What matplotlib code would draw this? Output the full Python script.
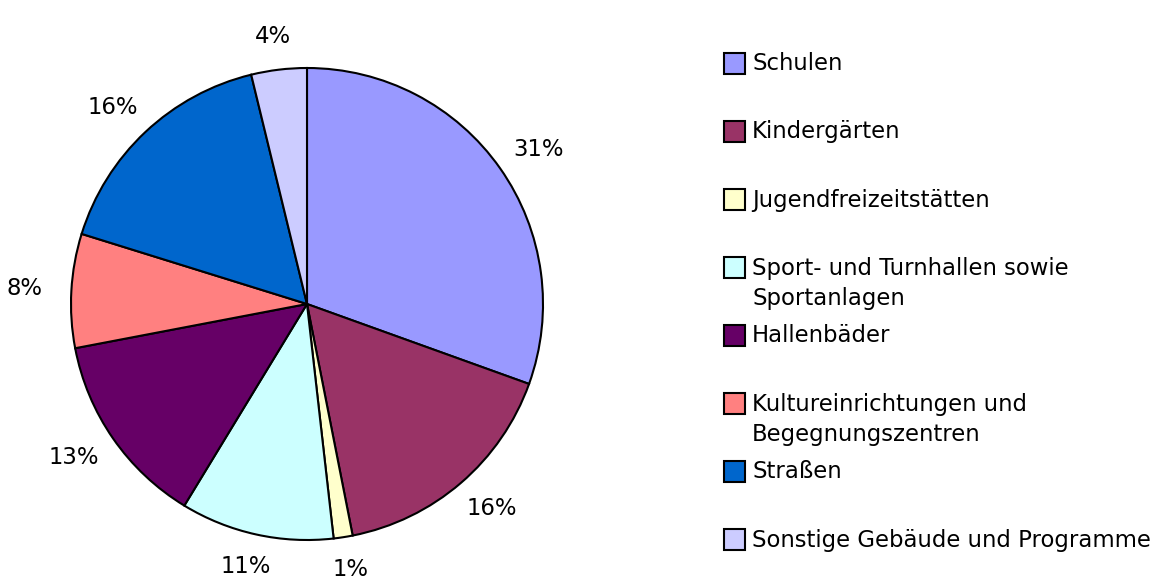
import numpy as np
import matplotlib.pyplot as plt
from matplotlib.patches import Rectangle

# shares of investment by category (percent)
categories = ["Schulen", "Kindergärten", "Jugendfreizeitstätten",
              "Sport- und Turnhallen sowie\nSportanlagen", "Hallenbäder",
              "Kultureinrichtungen und\nBegegnungszentren", "Straßen",
              "Sonstige Gebäude und Programme"]
shares = [30.5, 16.4, 1.3, 10.5, 13.3, 7.8, 16.4, 3.8]
colors = ["#9999FF", "#993366", "#FFFFCC", "#CCFFFF", "#660066",
          "#FF8080", "#0066CC", "#CCCCFF"]

W, H = 1163, 583
fs = 16.4
fig = plt.figure(figsize=(W / 100, H / 100), dpi=100)

cx, cy, r = 307, 304, 236
ax = fig.add_axes([(cx - r) / W, (H - cy - r) / H, 2 * r / W, 2 * r / H])

wedges, texts, autotexts = ax.pie(
    shares, colors=colors, startangle=90, counterclock=False,
    autopct=lambda p: "%d%%" % int(p + 0.5), pctdistance=1.2,
    wedgeprops=dict(edgecolor="black", linewidth=1.5),
    textprops=dict(fontsize=fs, color="black"))
ax.set_xlim(-1, 1)
ax.set_ylim(-1, 1)
ax.set_aspect("equal")

# Excel-like label placement: wider gap sideways than above/below
gx, gy = 0.2, 0.14
for w, t in zip(wedges, autotexts):
    a = np.deg2rad((w.theta1 + w.theta2) / 2)
    t.set_position(((1 + gx) * np.cos(a), (1 + gy) * np.sin(a)))
    t.set_ha("center")
    t.set_va("center")

# legend drawn by hand: one fixed slot per entry
x0, y0, step, line_h = 724, 63, 68, 30
box = 21
for i, (lab, col) in enumerate(zip(categories, colors)):
    y = y0 + i * step
    fig.add_artist(Rectangle((x0 / W, (H - y - box / 2) / H), box / W, box / H,
                             transform=fig.transFigure, facecolor=col,
                             edgecolor="black", linewidth=1.5))
    for k, line in enumerate(lab.split("\n")):
        fig.text((x0 + box + 7) / W, (H - y - 1 - k * line_h) / H, line,
                 fontsize=fs, va="center", ha="left")

fig.savefig("out.png", dpi=100)
